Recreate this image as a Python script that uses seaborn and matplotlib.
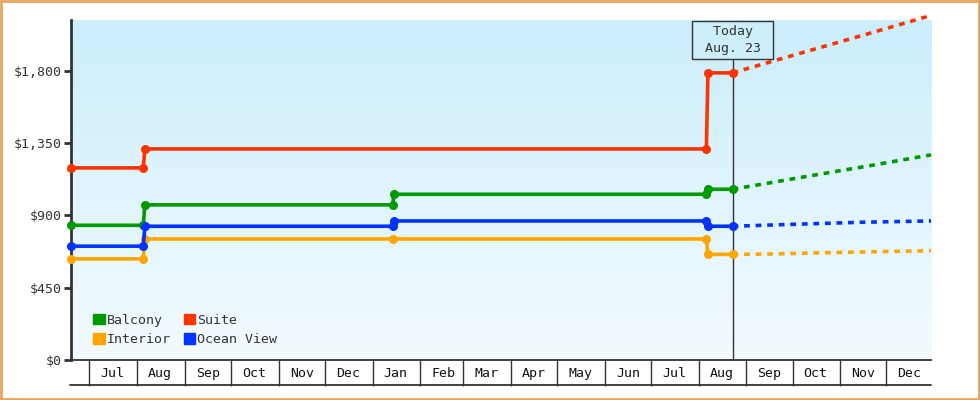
import matplotlib
matplotlib.use('Agg')
import matplotlib.pyplot as plt
import matplotlib.dates as mdates
from matplotlib.patches import Patch, Rectangle
from matplotlib.lines import Line2D
from matplotlib.ticker import FuncFormatter
import numpy as np
import pandas as pd
import seaborn as sns

# price history
balcony_dates = ['2022-06-19', '2022-08-05', '2022-08-06', '2023-01-14', '2023-01-15',
                 '2023-08-06', '2023-08-07', '2023-08-23']
balcony_prices = [838, 838, 965, 965, 1031, 1031, 1062, 1062]

suite_dates = ['2022-06-19', '2022-08-05', '2022-08-06', '2023-08-06', '2023-08-07', '2023-08-23']
suite_prices = [1195, 1195, 1313, 1313, 1786, 1786]

interior_dates = ['2022-06-19', '2022-08-05', '2022-08-06', '2023-01-14',
                  '2023-08-06', '2023-08-07', '2023-08-23']
interior_prices = [629, 629, 753, 753, 753, 657, 657]

ocean_dates = ['2022-06-19', '2022-08-05', '2022-08-06', '2023-01-14', '2023-01-15',
               '2023-08-06', '2023-08-07', '2023-08-23']
ocean_prices = [708, 708, 832, 832, 865, 865, 832, 832]

# projections after today
proj_dates = ['2023-08-23', '2023-09-15', '2023-10-15', '2023-11-15', '2023-12-30']
balcony_proj = [1062, 1100, 1150, 1200, 1276]
suite_proj = [1786, 1850, 1933, 2018, 2143]
interior_proj = [657, 659, 666, 672, 680]
ocean_proj = [832, 839, 848, 857, 865]

today = '2023-08-23'
today_label = ' Today \n Aug. 23 '
y_ticks = [0, 450, 900, 1350, 1800]

colors = {'Balcony': '#009900', 'Suite': '#ff3300',
          'Interior': '#ffa500', 'Ocean View': '#0033ff'}
series = [
    ('Balcony', balcony_dates, balcony_prices, balcony_proj),
    ('Suite', suite_dates, suite_prices, suite_proj),
    ('Interior', interior_dates, interior_prices, interior_proj),
    ('Ocean View', ocean_dates, ocean_prices, ocean_proj),
]

sns.set_style('white')
plt.rcParams['font.family'] = ['DejaVu Sans Mono']
txt = '#333333'

fig = plt.figure(figsize=(9.8, 4), dpi=100)
ax = fig.add_axes([71 / 980, 40 / 400, 860 / 980, 340 / 400])

# background gradient
grad = np.linspace(0, 1, 256).reshape(-1, 1)
bg = matplotlib.colors.LinearSegmentedColormap.from_list('bg', ['#cbeefc', '#f4fbff'])
ax.imshow(grad, cmap=bg, aspect='auto', extent=[0, 1, 0, 1],
          transform=ax.transAxes, zorder=0)

for name, d, p, proj in series:
    df = pd.DataFrame({'date': pd.to_datetime(d), 'price': p})
    sns.lineplot(data=df, x='date', y='price', ax=ax, color=colors[name], sort=False,
                 lw=2.6, marker='o', markersize=6.5, markeredgewidth=0,
                 clip_on=False, zorder=3)
    dp = pd.DataFrame({'date': pd.to_datetime(proj_dates), 'price': proj})
    sns.lineplot(data=dp, x='date', y='price', ax=ax, color=colors[name], sort=False,
                 lw=2.6, linestyle=(0, (1.6, 1.6)), clip_on=False, zorder=3)

ax.set_xlim(pd.Timestamp('2022-06-19'), pd.Timestamp('2023-12-30'))
ax.set_ylim(0, 2115)
ax.set_xlabel('')
ax.set_ylabel('')

ax.set_yticks(y_ticks)
ax.yaxis.set_major_formatter(FuncFormatter(lambda v, _: '${:,.0f}'.format(v)))
ax.tick_params(axis='y', direction='out', length=5, width=2, color=txt,
               labelsize=9.5, labelcolor=txt, pad=2, left=True)

ax.xaxis.set_major_locator(mdates.MonthLocator())
ax.xaxis.set_major_formatter(plt.NullFormatter())
ax.xaxis.set_minor_locator(mdates.MonthLocator(bymonthday=16))
ax.xaxis.set_minor_formatter(mdates.DateFormatter('%b'))
ax.tick_params(axis='x', which='major', direction='out', length=18.5, width=1,
               color=txt, bottom=True)
ax.tick_params(axis='x', which='minor', length=0, labelsize=9.5,
               labelcolor='#111111', pad=5)

for s in ['top', 'right']:
    ax.spines[s].set_visible(False)
ax.spines['left'].set_linewidth(2)
ax.spines['left'].set_color(txt)
ax.spines['bottom'].set_linewidth(1.3)
ax.spines['bottom'].set_color(txt)
ax.grid(False)

# bottom line of the month boxes
fig.add_artist(Line2D([70 / 980, 931 / 980], [15 / 400, 15 / 400], color=txt, lw=1.3))

# today marker
ax.axvline(pd.Timestamp(today), ymax=0.882, color=txt, lw=1, zorder=2)
ax.annotate(today_label, xy=(mdates.date2num(pd.Timestamp(today)), 0.941),
            xycoords=('data', 'axes fraction'), ha='center', va='center',
            fontsize=9.5, color=txt, linespacing=1.35, zorder=5,
            bbox=dict(boxstyle='square,pad=0.35', fc='#cdeefb', ec=txt, lw=1))

handles = [Patch(color=colors[n]) for n in ['Balcony', 'Interior', 'Suite', 'Ocean View']]
labels = ['Balcony', 'Interior', 'Suite', 'Ocean View']
leg = ax.legend(handles, labels, ncol=2, loc='lower left', bbox_to_anchor=(0.02, 0.025),
                frameon=False, fontsize=9.5, handlelength=0.85, handleheight=0.85,
                handletextpad=0.15, columnspacing=1.0, labelspacing=0.5,
                borderaxespad=0)
for t in leg.get_texts():
    t.set_color(txt)

# orange frame round the picture
fig.add_artist(Rectangle((0.001, 0.002), 0.998, 0.996, transform=fig.transFigure,
                         fill=False, ec='#e8a45e', lw=2))

fig.savefig('out.png', dpi=100)
